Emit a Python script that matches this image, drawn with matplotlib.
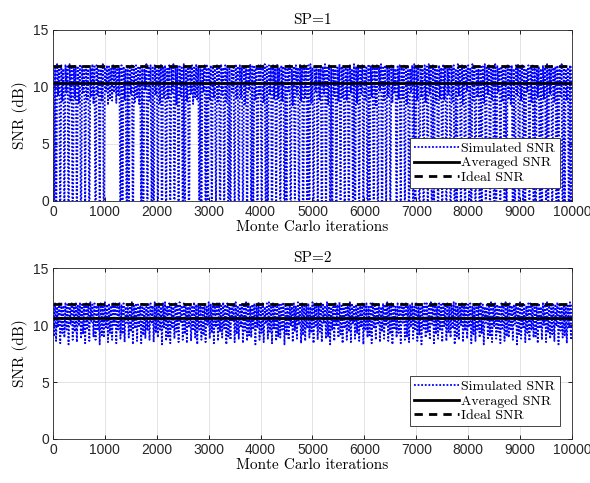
import numpy as np
import matplotlib
matplotlib.use("Agg")
from matplotlib import pyplot as plt

# iteration index (sampled every 20 iterations)
iters = np.arange(0, 10001, 20)

# simulated SNR (dB) read as alternating peaks / troughs of the noisy trace
# SP=1 peaks (iterations 0, 40, 80, ...)
peaks_sp1 = [
    11.9, 11.7, 12.0, 11.8, 11.9, 11.6, 11.9, 11.8, 12.0, 11.7,
    11.9, 11.8, 11.7, 12.0, 11.9, 11.6, 11.8, 11.9, 11.7, 12.0,
    11.8, 11.9, 11.6, 11.9, 12.0, 11.7, 11.9, 11.8, 11.6, 11.9,
    11.8, 12.0, 11.7, 11.9, 11.8, 11.6, 11.9, 11.7, 12.0, 11.8,
    11.9, 11.7, 11.8, 11.9, 11.6, 12.0, 11.8, 11.9, 11.7, 11.9,
    11.9, 11.7, 12.0, 11.8, 11.9, 11.6, 11.9, 11.8, 12.0, 11.7,
    11.9, 11.8, 11.7, 12.0, 11.9, 11.6, 11.8, 11.9, 11.7, 12.0,
    11.8, 11.9, 11.6, 11.9, 12.0, 11.7, 11.9, 11.8, 11.6, 11.9,
    11.8, 12.0, 11.7, 11.9, 11.8, 11.6, 11.9, 11.7, 12.0, 11.8,
    11.9, 11.7, 11.8, 11.9, 11.6, 12.0, 11.8, 11.9, 11.7, 11.9,
    11.9, 11.7, 12.0, 11.8, 11.9, 11.6, 11.9, 11.8, 12.0, 11.7,
    11.9, 11.8, 11.7, 12.0, 11.9, 11.6, 11.8, 11.9, 11.7, 12.0,
    11.8, 11.9, 11.6, 11.9, 12.0, 11.7, 11.9, 11.8, 11.6, 11.9,
    11.8, 12.0, 11.7, 11.9, 11.8, 11.6, 11.9, 11.7, 12.0, 11.8,
    11.9, 11.7, 11.8, 11.9, 11.6, 12.0, 11.8, 11.9, 11.7, 11.9,
    11.9, 11.7, 12.0, 11.8, 11.9, 11.6, 11.9, 11.8, 12.0, 11.7,
    11.9, 11.8, 11.7, 12.0, 11.9, 11.6, 11.8, 11.9, 11.7, 12.0,
    11.8, 11.9, 11.6, 11.9, 12.0, 11.7, 11.9, 11.8, 11.6, 11.9,
    11.8, 12.0, 11.7, 11.9, 11.8, 11.6, 11.9, 11.7, 12.0, 11.8,
    11.9, 11.7, 11.8, 11.9, 11.6, 12.0, 11.8, 11.9, 11.7, 11.9,
    11.9, 11.7, 12.0, 11.8, 11.9, 11.6, 11.9, 11.8, 12.0, 11.7,
    11.9, 11.8, 11.7, 12.0, 11.9, 11.6, 11.8, 11.9, 11.7, 12.0,
    11.8, 11.9, 11.6, 11.9, 12.0, 11.7, 11.9, 11.8, 11.6, 11.9,
    11.8, 12.0, 11.7, 11.9, 11.8, 11.6, 11.9, 11.7, 12.0, 11.8,
    11.9, 11.7, 11.8, 11.9, 11.6, 12.0, 11.8, 11.9, 11.7, 11.9,
    11.8,
]
# SP=1 troughs (iterations 20, 60, 100, ...); deep fades fall below the axis
troughs_sp1 = [
    -3.0, -6.0, 9.2, -4.5, 8.7, -2.0, 9.5, -5.0, 8.8, -7.0,
    9.0, -3.5, 8.6, -5.5, 9.4, -1.5, 8.9, -4.0, 9.1, 8.5,
    -6.5, 9.3, -3.0, 8.7, -5.0, 9.6, 8.4, 9.0, 8.8, 9.5,
    8.6, 9.2, -4.0, -2.5, 8.9, -6.0, -3.5, 9.4, -5.0, 8.7,
    9.1, 8.5, -3.0, -7.0, 9.7, -4.5, 8.8, -2.0, -5.5, 9.3,
    -3.5, 8.6, -6.0, 9.0, -4.0, 8.9, -2.5, 9.5, -5.0, 8.4,
    -7.5, 9.2, -3.0, -4.5, 8.7, -6.0, 9.4, 8.5, 9.1, 8.9,
    -2.0, -5.0, 9.6, -3.5, -6.5, 8.8, -4.0, 9.0, -1.0, 8.6,
    -5.5, 9.3, -3.0, 8.7, -7.0, -4.5, 9.5, -2.5, 8.9, -6.0,
    9.1, -3.5, 8.5, -5.0, 9.7, -4.0, -2.0, 8.8, -6.5, 9.2,
    -3.0, 8.6, -5.5, -4.0, 9.4, -7.0, 8.9, -2.5, 9.0, -4.5,
    8.7, -6.0, -3.5, 9.5, -5.0, 8.4, -1.5, 9.3, -4.0, 8.8,
    -6.5, 9.1, -3.0, -5.5, 8.6, -4.5, 9.6, -2.0, 8.9, -7.0,
    9.4, -3.5, 8.5, -5.0, -4.0, 9.2, -6.0, 8.7, -2.5, 9.0,
    -4.5, 8.8, -7.0, 9.5, -3.0, -5.5, 8.6, -4.0, 9.3, -2.0,
    8.9, -6.0, -3.5, 9.1, -5.0, 8.4, -4.5, 9.7, -6.5, 8.7,
    -1.0, 9.2, -3.0, 8.6, 9.4, -5.5, 8.9, -4.0, 9.0, -2.5,
    8.5, -6.0, 9.6, -3.5, -5.0, 8.8, -7.0, 9.1, -4.5, 8.7,
    -2.0, 9.3, -5.5, -3.0, 8.6, -6.5, 9.0, -4.0, 8.9, -3.5,
    9.4, -5.0, 8.7, -7.5, -2.5, 9.2, -4.5, 8.5, -6.0, 9.6,
    -3.0, -5.5, 8.8, -4.0, 9.1, -6.5, -2.0, 8.6, -5.0, 9.3,
    -3.5, 8.9, -7.0, -4.5, 9.5, -2.5, 8.7, -6.0, -3.0, 9.0,
    8.4, -5.0, -4.0, 9.2, -6.5, 8.8, -3.5, -2.0, 9.6, -5.5,
    8.6, -4.5, -7.0, 9.1, -3.0, -5.0, 8.9, -2.5, -6.0, 9.4,
    -4.0, 8.7, -3.5, -5.5, 9.2, -6.5, -2.0, 8.8, -4.5, -3.0,
]

# SP=2 peaks and troughs
peaks_sp2 = [
    11.8, 11.9, 11.6, 11.9, 12.0, 11.7, 11.9, 11.8, 11.6, 11.9,
    11.8, 12.0, 11.7, 11.9, 11.8, 11.6, 11.9, 11.7, 12.0, 11.8,
    11.9, 11.7, 11.8, 11.9, 11.6, 12.0, 11.8, 11.9, 11.7, 11.9,
    11.9, 11.7, 12.0, 11.8, 11.9, 11.6, 11.9, 11.8, 12.0, 11.7,
    11.9, 11.8, 11.7, 12.0, 11.9, 11.6, 11.8, 11.9, 11.7, 12.0,
    11.8, 11.9, 11.6, 11.9, 12.0, 11.7, 11.9, 11.8, 11.6, 11.9,
    11.8, 12.0, 11.7, 11.9, 11.8, 11.6, 11.9, 11.7, 12.0, 11.8,
    11.9, 11.7, 11.8, 11.9, 11.6, 12.0, 11.8, 11.9, 11.7, 11.9,
    11.9, 11.7, 12.0, 11.8, 11.9, 11.6, 11.9, 11.8, 12.0, 11.7,
    11.9, 11.8, 11.7, 12.0, 11.9, 11.6, 11.8, 11.9, 11.7, 12.0,
    11.8, 11.9, 11.6, 11.9, 12.0, 11.7, 11.9, 11.8, 11.6, 11.9,
    11.8, 12.0, 11.7, 11.9, 11.8, 11.6, 11.9, 11.7, 12.0, 11.8,
    11.9, 11.7, 11.8, 11.9, 11.6, 12.0, 11.8, 11.9, 11.7, 11.9,
    11.9, 11.7, 12.0, 11.8, 11.9, 11.6, 11.9, 11.8, 12.0, 11.7,
    11.9, 11.8, 11.7, 12.0, 11.9, 11.6, 11.8, 11.9, 11.7, 12.0,
    11.8, 11.9, 11.6, 11.9, 12.0, 11.7, 11.9, 11.8, 11.6, 11.9,
    11.8, 12.0, 11.7, 11.9, 11.8, 11.6, 11.9, 11.7, 12.0, 11.8,
    11.9, 11.7, 11.8, 11.9, 11.6, 12.0, 11.8, 11.9, 11.7, 11.9,
    11.9, 11.7, 12.0, 11.8, 11.9, 11.6, 11.9, 11.8, 12.0, 11.7,
    11.9, 11.8, 11.7, 12.0, 11.9, 11.6, 11.8, 11.9, 11.7, 12.0,
    11.8, 11.9, 11.6, 11.9, 12.0, 11.7, 11.9, 11.8, 11.6, 11.9,
    11.8, 12.0, 11.7, 11.9, 11.8, 11.6, 11.9, 11.7, 12.0, 11.8,
    11.9, 11.7, 11.8, 11.9, 11.6, 12.0, 11.8, 11.9, 11.7, 11.9,
    11.9, 11.7, 12.0, 11.8, 11.9, 11.6, 11.9, 11.8, 12.0, 11.7,
    11.9, 11.8, 11.7, 12.0, 11.9, 11.6, 11.8, 11.9, 11.7, 12.0,
    11.9,
]
troughs_sp2 = [
    9.0, 8.6, 9.8, 8.4, 9.3, 8.9, 9.6, 8.3, 10.1, 8.7,
    9.4, 8.5, 9.9, 8.8, 9.2, 8.4, 9.7, 8.6, 10.3, 9.0,
    8.7, 9.5, 8.3, 9.1, 8.9, 9.8, 8.5, 9.3, 8.7, 10.0,
    8.4, 9.6, 8.8, 9.2, 8.5, 10.2, 8.9, 9.4, 8.3, 9.7,
    8.6, 9.9, 8.4, 9.1, 8.8, 9.5, 8.7, 10.1, 8.5, 9.3,
    8.9, 9.6, 8.3, 9.8, 8.6, 9.0, 8.4, 9.7, 8.8, 9.4,
    8.5, 10.2, 8.7, 9.2, 8.4, 9.9, 8.6, 9.5, 8.9, 8.3,
    9.6, 8.7, 9.1, 8.5, 10.0, 8.8, 9.3, 8.4, 9.8, 8.6,
    9.4, 8.9, 9.7, 8.3, 9.0, 8.7, 10.3, 8.5, 9.2, 8.8,
    9.9, 8.4, 9.5, 8.6, 9.1, 8.9, 9.6, 8.3, 9.8, 8.7,
    9.3, 8.5, 10.1, 8.8, 9.4, 8.4, 9.7, 8.6, 9.0, 8.9,
    9.6, 8.3, 9.2, 8.7, 9.9, 8.5, 9.5, 8.8, 10.0, 8.4,
    9.1, 8.6, 9.7, 8.9, 9.3, 8.4, 9.8, 8.7, 9.4, 8.5,
    10.2, 8.8, 9.0, 8.3, 9.6, 8.6, 9.9, 8.9, 9.2, 8.4,
    9.7, 8.7, 9.4, 8.5, 10.1, 8.8, 9.3, 8.6, 9.8, 8.3,
    9.5, 8.9, 9.1, 8.4, 9.7, 8.7, 10.0, 8.5, 9.4, 8.8,
    9.9, 8.6, 9.2, 8.3, 9.6, 8.9, 9.3, 8.4, 10.2, 8.7,
    9.0, 8.5, 9.8, 8.8, 9.5, 8.6, 9.1, 8.3, 9.7, 8.9,
    9.4, 8.7, 10.1, 8.4, 9.2, 8.8, 9.6, 8.5, 9.9, 8.6,
    9.3, 8.9, 9.7, 8.3, 9.0, 8.7, 10.0, 8.5, 9.5, 8.8,
    9.8, 8.4, 9.2, 8.6, 9.6, 8.9, 9.3, 8.3, 10.2, 8.7,
    9.1, 8.5, 9.9, 8.8, 9.4, 8.4, 9.7, 8.6, 9.0, 8.9,
    9.5, 8.7, 10.1, 8.3, 9.2, 8.8, 9.8, 8.5, 9.3, 8.6,
    9.6, 8.9, 9.0, 8.4, 9.7, 8.7, 10.0, 8.5, 9.4, 8.8,
    9.2, 8.6, 9.9, 8.3, 9.5, 8.9, 9.1, 8.4, 9.8, 8.7,
]

avg_snr = [10.35, 10.6]   # averaged SNR for SP=1, SP=2
ideal_snr = 11.8
titles = ["SP=1", "SP=2"]
xticks = list(range(0, 10001, 1000))
yticks = [0, 5, 10, 15]

serif = "cmr10"
sans = "Liberation Sans"


def trace(peaks, troughs):
    # put peaks and troughs back in iteration order
    y = np.empty(len(peaks) + len(troughs))
    y[0::2] = peaks
    y[1::2] = troughs
    return y


fig = plt.figure(figsize=(5.9, 4.83), dpi=100)
axes = [fig.add_axes([0.0898, 0.584, 0.8797, 0.354]),
        fig.add_axes([0.0898, 0.0911, 0.8797, 0.354])]
sims = [trace(peaks_sp1, troughs_sp1), trace(peaks_sp2, troughs_sp2)]

for ax, sim, avg, title in zip(axes, sims, avg_snr, titles):
    ax.plot(iters, sim, color='blue', lw=1.3, ls=(0, (1, 1)), label='Simulated SNR')
    ax.axhline(avg, color='black', lw=2, label='Averaged SNR')
    ax.axhline(ideal_snr, color='black', lw=2, ls=(0, (3, 2.2)), label='Ideal SNR')
    ax.set_xlim(0, 10000)
    ax.set_ylim(0, 15)
    ax.set_xticks(xticks)
    ax.set_yticks(yticks)
    ax.tick_params(direction='in', top=True, right=True, length=3, width=0.6,
                   labelsize=10, pad=3)
    for lab in ax.get_xticklabels() + ax.get_yticklabels():
        lab.set_fontfamily(sans)
        lab.set_color('#262626')
    ax.grid(True, color='#dedede', lw=0.6)
    ax.set_axisbelow(True)
    for s in ax.spines.values():
        s.set_linewidth(0.6)
        s.set_color('#262626')
    ax.set_title(title, fontfamily=serif, fontsize=11, pad=4)
    ax.set_xlabel('Monte Carlo iterations', fontfamily=serif, fontsize=11, labelpad=1)
    ax.set_ylabel('SNR (dB)', fontfamily=serif, fontsize=11, labelpad=4)
    leg = ax.legend(loc='lower right', prop={'family': serif, 'size': 10},
                    fancybox=False, framealpha=1, edgecolor='#262626',
                    borderaxespad=0.9, handlelength=3.2, handletextpad=0.2,
                    labelspacing=0.15, borderpad=0.3)
    leg.get_frame().set_linewidth(0.6)

fig.savefig('out.png', dpi=100)
